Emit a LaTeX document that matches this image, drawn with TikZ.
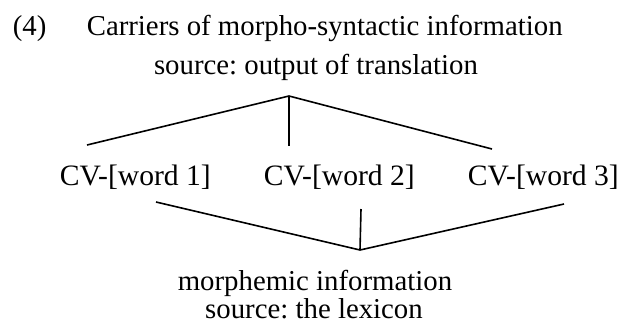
\documentclass[tikz,border=0pt]{standalone}
\usepackage{fontspec}
\setmainfont{Liberation Serif}
\frenchspacing

\begin{document}
\begin{tikzpicture}[x=0.5pt,y=-0.5pt,line width=0.8pt,
    txt/.style={inner sep=0pt,font=\fontsize{14.8}{17}\selectfont},
    head/.style={inner sep=0pt,font=\fontsize{14.4}{17}\selectfont}]
\useasboundingbox (0,0) rectangle (621,328);

\node [head,anchor=base west] (num)     at ( 12, 35) {(4)};
\node [head,anchor=base west] (carrier) at ( 86, 35) {Carriers of morpho-syntactic information};
\node [head,anchor=base]      (srctop)  at (316, 74) {source: output of translation};

\node [txt,anchor=base west] (word1) at ( 59,185) {CV-[word 1]};
\node [txt,anchor=base west] (word2) at (263,185) {CV-[word 2]};
\node [txt,anchor=base west] (word3) at (467,185) {CV-[word 3]};

\node [head,anchor=base] (morph)  at (315,290) {morphemic information};
\node [head,anchor=base] (srclex) at (314,318) {source: the lexicon};

% upper fork
\coordinate (top)   at (289, 96);
\coordinate (up1)   at ( 87,145);
\coordinate (up2)   at (289,146);
\coordinate (up3)   at (492,149);
\draw (up1) -- (top) -- (up3);
\draw (top) -- (up2);

% lower fork
\coordinate (bot)   at (360,250);
\coordinate (down1) at (156,202);
\coordinate (down2) at (361,209);
\coordinate (down3) at (564,204);
\draw (down1) -- (bot) -- (down3);
\draw (down2) -- (bot);
\end{tikzpicture}
\end{document}
